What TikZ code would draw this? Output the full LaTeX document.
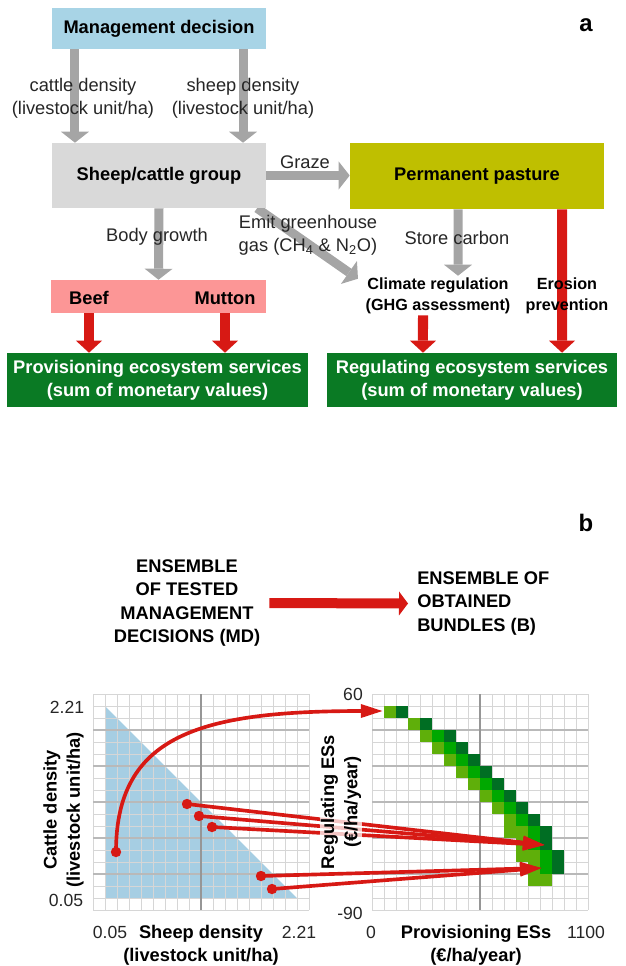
\documentclass[tikz,border=0pt]{standalone}
\usepackage{fontspec}
\setmainfont{Liberation Sans}
\usetikzlibrary{arrows.meta,calc,backgrounds}

\definecolor{mgblue}{RGB}{168,212,230}
\definecolor{grpgray}{RGB}{217,217,217}
\definecolor{pastolive}{RGB}{191,191,0}
\definecolor{meatpink}{RGB}{252,150,150}
\definecolor{esgreen}{RGB}{10,122,36}
\definecolor{arrgray}{RGB}{165,165,165}
\definecolor{arrred}{RGB}{215,25,20}
\definecolor{mdblue}{RGB}{166,206,227}
\definecolor{sqlight}{RGB}{95,175,10}
\definecolor{sqmid}{RGB}{0,168,0}
\definecolor{sqdark}{RGB}{0,110,35}
\definecolor{gridminor}{RGB}{214,214,214}
\definecolor{gridmajor}{RGB}{185,185,185}
\definecolor{gridmid}{RGB}{150,150,150}

\newcommand{\fntreg}{\fontsize{13}{16.4}\selectfont}
\newcommand{\fntbold}{\fontsize{13}{16.4}\selectfont\bfseries}
\newcommand{\fntsmall}{\fontsize{11.5}{15}\selectfont\bfseries}
\newcommand{\fnttick}{\fontsize{12.5}{15}\selectfont}
\newcommand{\fntpanel}{\fontsize{17}{20}\selectfont\bfseries}

\tikzset{
  fbox/.style={rectangle, inner sep=0pt, font=\fntbold},
  lbl/.style={inner sep=1pt, align=center, font=\fntreg, text=black!85},
  blbl/.style={inner sep=1pt, align=center, font=\fntbold},
  tick/.style={inner sep=0pt, font=\fnttick, text=black!85},
  grayarrow/.style={draw=arrgray, line width=0.225cm, -{Triangle[length=0.275cm, width=0.7cm, fill=arrgray, line width=0pt]}},
  redarrow/.style={draw=arrred, line width=0.25cm, -{Triangle[length=0.3cm, width=0.65cm, fill=arrred, line width=0pt]}},
  redblock/.style={draw=arrred, line width=0.25cm, -{Triangle[length=0.225cm, width=0.6cm, fill=arrred, line width=0pt]}},
  mdline/.style={draw=arrred, line width=2.6pt, -{Triangle[length=0.55cm, width=0.32cm]}},
  gridline/.style={draw=gridminor, line width=0.6pt},
  gridheavy/.style={draw=gridmajor, line width=0.8pt},
  gridcenter/.style={draw=gridmid, line width=0.8pt},
}

\begin{document}
\begin{tikzpicture}[x=0.025cm, y=-0.025cm]
	\useasboundingbox (0,0) rectangle (625,966);
	
	% panel a: boxes
	\node[fbox, fill=mgblue, minimum width=5.35cm, minimum height=1.025cm] (mgmt) at (159,28.5) {Management decision};
	\node[fbox, fill=grpgray, minimum width=5.35cm, minimum height=1.625cm] (group) at (159,175.5) {Sheep/cattle group};
	\node[fbox, fill=pastolive, minimum width=6.35cm, minimum height=1.65cm] (pasture) at (477,176) {Permanent pasture};
	\node[fbox, fill=meatpink, minimum width=5.375cm, minimum height=0.825cm] (meat) at (158.5,296.5) {};
	\node[fbox] (beef) at (89,298) {Beef};
	\node[fbox] (mutton) at (225,298) {Mutton};
	\node[fbox, fill=esgreen, text=white, align=center, minimum width=7.525cm, minimum height=1.35cm] (prov) at (157.5,380) {Provisioning ecosystem services\\(sum of monetary values)};
	\node[fbox, fill=esgreen, text=white, align=center, minimum width=7.25cm, minimum height=1.35cm] (regul) at (472,380) {Regulating ecosystem services\\(sum of monetary values)};
	
	\node[blbl, font=\fntsmall] (clim) at (438,295.5) {Climate regulation\\(GHG assessment)};
	\node[blbl, font=\fntsmall] (eros) at (567,295.5) {Erosion\\prevention};
	
	% panel a: labels
	\node[lbl] (cattle) at (83,98.5) {cattle density\\(livestock unit/ha)};
	\node[lbl] (sheep) at (243,98.5) {sheep density\\(livestock unit/ha)};
	\node[lbl] (graze) at (305,162) {Graze};
	\node[lbl] (growth) at (157,237) {Body growth};
	\node[lbl] (emit) at (308,235.5) {Emit greenhouse\\gas (CH\textsubscript{4} \& N\textsubscript{2}O)};
	\node[lbl] (store) at (457,238) {Store carbon};
	\node[font=\fntpanel] (pa) at (586,25) {a};
	
	\begin{scope}[on background layer]
    \draw[grayarrow] ([xshift=-2.1cm]mgmt.south) -- ([xshift=-2.1cm]group.north);
    \draw[grayarrow] ([xshift=2.1cm]mgmt.south) -- ([xshift=2.1cm]group.north);
    \draw[grayarrow] (group.east) -- (group.east -| pasture.west);
    \draw[grayarrow] (group.south) -- (meat.north);
    \draw[grayarrow] ([xshift=2.45cm]group.south) -- ($(clim.north west)+(-6,3)$);
    \draw[grayarrow] ([xshift=-0.475cm]pasture.south) -- ([xshift=0.5cm]clim.north);
    
    \draw[redarrow] ([xshift=2.125cm]pasture.south) -- ([xshift=2.25cm]regul.north);
    \draw[redarrow] ([xshift=-0.375cm]clim.south) -- ([xshift=-1.225cm]regul.north);
    \draw[redarrow] (meat.south -| beef) -- (prov.north -| beef);
    \draw[redarrow] (meat.south -| mutton) -- (prov.north -| mutton);
	\end{scope}
	
	% panel b: ensembles
	\node[font=\fntpanel] (pb) at (586,523) {b};
	\node[blbl, inner sep=0.225cm] (ensmd) at (187,603) {ENSEMBLE\\OF TESTED\\MANAGEMENT\\DECISIONS (MD)};
	\node[blbl, inner sep=0.225cm, align=left, anchor=west] (ensb) at (408,603.5) {ENSEMBLE OF\\OBTAINED\\BUNDLES (B)};
    \draw[redblock] (ensmd.east) -- (ensb.west);
	
	% panel b: plots
	\fill[mdblue] (105,706) -- (105,898) -- (297,898) -- cycle;
	\foreach \ox in {93,372} {
		\foreach \k in {0,...,18} {
			\draw[gridline] (\ox+12*\k,694) -- (\ox+12*\k,910);
			\draw[gridline] (\ox,694+12*\k) -- (\ox+216,694+12*\k);
		}
		\foreach \k in {3,6,...,15}
			\draw[gridheavy] (\ox,694+12*\k) -- (\ox+216,694+12*\k);
		\draw[gridcenter] (\ox+108,694) -- (\ox+108,910);
	}
	\foreach \c/\r/\col in {1/1/sqlight, 2/1/sqdark, 3/2/sqlight, 4/2/sqdark,
		4/3/sqlight, 5/3/sqmid, 6/3/sqdark, 5/4/sqlight, 6/4/sqmid, 7/4/sqdark,
		6/5/sqlight, 7/5/sqmid, 8/5/sqdark, 7/6/sqlight, 8/6/sqmid, 9/6/sqdark,
		8/7/sqlight, 9/7/sqmid, 10/7/sqdark, 9/8/sqlight, 10/8/sqmid, 11/8/sqdark,
		10/9/sqlight, 11/9/sqmid, 12/9/sqdark, 11/10/sqlight, 12/10/sqmid, 13/10/sqdark,
		11/11/sqlight, 12/11/sqlight, 13/11/sqmid, 14/11/sqdark,
		12/12/sqlight, 13/12/sqmid, 14/12/sqdark,
		12/13/sqlight, 13/13/sqlight, 14/13/sqmid, 15/13/sqdark,
		13/14/sqlight, 14/14/sqmid, 15/14/sqdark, 13/15/sqlight, 14/15/sqlight}
		\fill[\col] (372+12*\c,694+12*\r) rectangle +(12,12);
	
	% tested decisions and obtained bundles
	\coordinate (md1) at (116,852);
	\coordinate (md2) at (187,804);
	\coordinate (md3) at (199,816);
	\coordinate (md4) at (212,827);
	\coordinate (md5) at (261,876);
	\coordinate (md6) at (272,889);
	\coordinate (bd1) at (383,711);
	\coordinate (bd2) at (545,845);
	\coordinate (bd3) at (542,868);
	
	\draw[mdline] (md1) .. controls (116,735) and (200,711) .. (bd1);
	\draw[mdline] (md2) -- (bd2);
	\draw[mdline] (md3) -- (bd2);
	\draw[mdline] (md4) -- (bd2);
	\draw[mdline] (md5) -- (bd3);
	\draw[mdline] (md6) -- (bd3);
	\foreach \p in {md1,md2,md3,md4,md5,md6}
		\fill[arrred] (\p) circle (0.13cm);
	
	% axes
	\node[tick] (ytop) at (67,707) {2.21};
	\node[tick] (ybot) at (66,900) {0.05};
	\node[tick] (xlo) at (110,932) {0.05};
	\node[tick] (xhi) at (299,932) {2.21};
	\node[blbl] (xlab) at (201,945) {Sheep density\\(livestock unit/ha)};
	\node[blbl, rotate=90] (ylab) at (63.5,810) {Cattle density\\(livestock unit/ha)};
	
	\node[tick] (rtop) at (353,694) {60};
	\node[tick] (rbot) at (350,913) {-90};
	\node[tick] (rlo) at (371,932) {0};
	\node[tick] (rhi) at (586,932) {1100};
	\node[blbl] (rxlab) at (476,945) {Provisioning ESs\\(€/ha/year)};
	\node[blbl, rotate=90, fill=white, fill opacity=0.75, text opacity=1] (rylab) at (341,802) {Regulating ESs\\(€/ha/year)};
	
\end{tikzpicture}
\end{document}
